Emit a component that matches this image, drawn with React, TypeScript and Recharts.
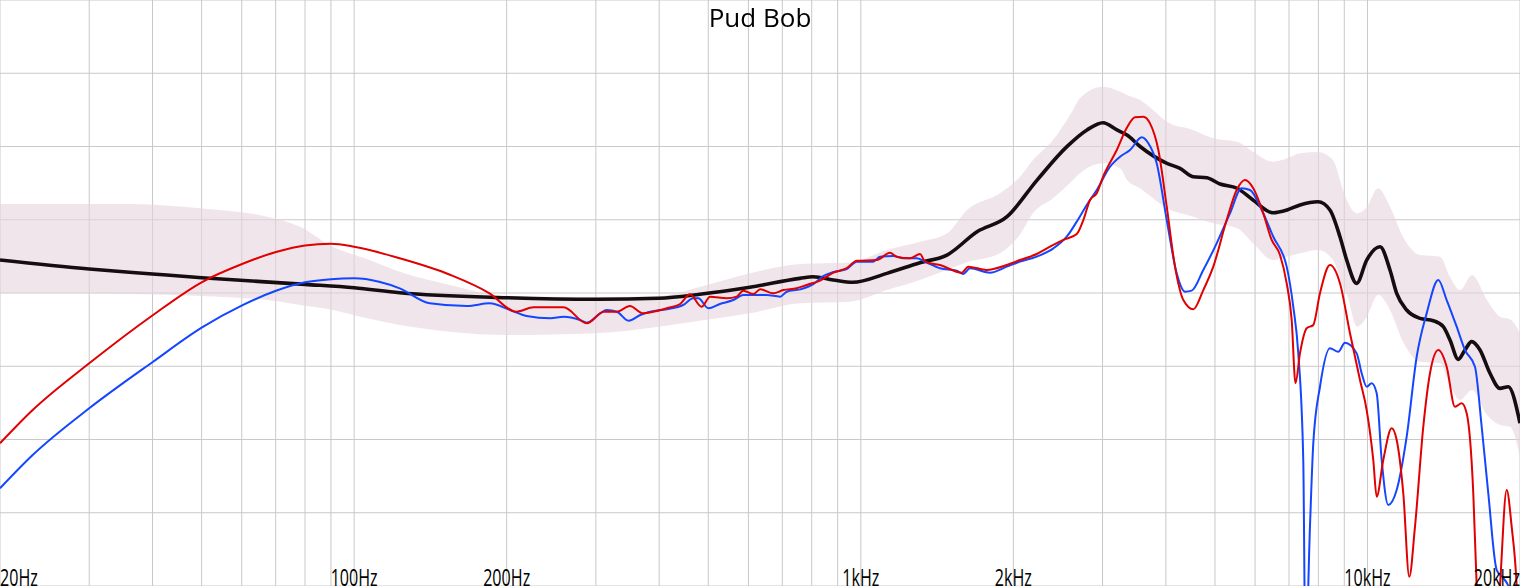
import React from 'react';
import { ComposedChart, Line, Area, XAxis, YAxis, CartesianGrid } from 'recharts';

// x grid: every 1-2-3..9 step per decade, labels only on a few
const gridFreqs = [20, 30, 40, 50, 60, 70, 80, 90, 100, 200, 300, 400, 500, 600, 700, 800, 900, 1000, 2000, 3000, 4000, 5000, 6000, 7000, 8000, 9000, 10000, 20000];
const tickFreqs = [20, 100, 200, 1000, 2000, 10000, 20000];
const tickLabels = ['20Hz', '100Hz', '200Hz', '1kHz', '2kHz', '10kHz', '20kHz'];
const dbTicks = [50, 55, 60, 65, 70, 75, 80, 85, 90];

// target curve (black)
const targetFreq = [20, 30, 40, 50, 80, 100, 123, 200, 301, 400, 481, 604, 758, 805, 882, 964, 1126, 1308, 1479, 1696, 1943, 2228, 2551, 2795, 3006, 3203, 3352, 3558, 4019, 4266, 4527, 4821, 5116, 5530, 5944, 6510, 6940, 7360, 7988, 8432, 8825, 9098, 9521, 9964, 10586, 11077, 11419, 11950, 12695, 13486, 14113, 14549, 15107, 15575, 16056, 16674, 17449, 18261, 18963, 20000];
const targetDb = [72.25, 71.64, 71.3, 71.04, 70.59, 70.36, 70.02, 69.68, 69.57, 69.64, 69.91, 70.39, 71.0, 71.11, 70.89, 70.73, 71.34, 72.07, 72.59, 74.18, 75.21, 77.71, 79.99, 81.13, 81.62, 81.13, 80.78, 80.0, 78.85, 78.51, 77.94, 77.87, 77.44, 77.15, 76.35, 75.48, 75.67, 76.01, 76.23, 75.67, 73.84, 72.25, 70.66, 72.25, 73.16, 71.57, 69.98, 68.84, 68.27, 68.11, 67.7, 66.79, 65.47, 66.11, 66.68, 66.11, 64.52, 63.49, 63.6, 61.11];

// target tolerance band (pink)
const bandFreq = [20, 31.5, 36.6, 49.6, 67.3, 78.2, 90.8, 106, 123, 154.6, 200, 301, 400, 481, 604, 758, 952, 1126, 1308, 1479, 1620, 1882, 2062, 2187, 2395, 2623, 2708, 3007, 3248, 3353, 3558, 3773, 4020, 4527, 4956, 5527, 5944, 6510, 6940, 7360, 7988, 8549, 8947, 9110, 9534, 9977, 10489, 11077, 11750, 12695, 13903, 14549, 15225, 16078, 17213, 18261, 19110, 20000];
const bandHigh = [76.08, 76.08, 76.08, 75.78, 75.21, 74.53, 73.16, 72.32, 71.45, 70.55, 69.8, 69.73, 69.8, 70.41, 71.34, 71.98, 72.08, 72.94, 73.5, 74.07, 75.67, 76.81, 77.94, 79.08, 80.44, 82.49, 83.31, 84.08, 83.74, 83.52, 83.17, 82.49, 81.69, 81.13, 80.56, 80.33, 79.65, 78.96, 79.19, 79.54, 79.62, 79.08, 77.03, 76.35, 75.44, 75.89, 77.15, 75.89, 73.84, 72.59, 72.48, 71.11, 70.2, 71.23, 69.52, 68.38, 68.2, 67.27];
const bandLow = [69.98, 69.98, 69.93, 69.8, 69.52, 69.18, 68.84, 68.27, 67.82, 67.36, 67.13, 67.25, 67.7, 68.1, 68.61, 69.3, 69.41, 70.2, 70.89, 71.57, 72.1, 72.71, 74.0, 75.44, 76.46, 77.71, 78.17, 78.85, 78.51, 77.71, 77.15, 76.46, 75.78, 75.21, 74.76, 74.42, 73.39, 72.25, 72.48, 72.71, 72.94, 72.25, 70.43, 69.86, 67.7, 68.38, 69.86, 68.84, 66.68, 65.31, 65.2, 63.72, 62.7, 63.38, 61.67, 60.99, 60.87, 58.83];

// right channel (red)
const redFreq = [20, 23.2, 30, 40.1, 50.1, 60.1, 70.1, 80, 90, 100, 123, 155, 185, 209, 226, 259, 288, 311, 330, 350, 372, 389, 414, 440, 460, 485, 504, 544, 569, 586, 614, 633, 672, 703, 747, 782, 831, 883, 938, 982, 1075, 1142, 1177, 1251, 1309, 1339, 1433, 1582, 1630, 1772, 1941, 2062, 2224, 2363, 2510, 2668, 2749, 2834, 2922, 3007, 3200, 3348, 3477, 3611, 3722, 3866, 4016, 4170, 4331, 4532, 4742, 4962, 5273, 5519, 5731, 5951, 6228, 6470, 6720, 6927, 7086, 7210, 7358, 7586, 7817, 8058, 8433, 8825, 9236, 9665, 9964, 10267, 10427, 10744, 11163, 11419, 11767, 12092, 12410, 12887, 13285, 13796, 14332, 14883, 15343, 15696, 16174, 16426, 16826, 17770, 18261, 18824, 19257, 19699, 20000];
const redDb = [59.74, 62.01, 65.2, 68.5, 70.75, 71.98, 72.8, 73.25, 73.36, 73.16, 72.37, 71.23, 69.98, 68.72, 69.02, 69.02, 67.93, 68.72, 68.72, 69.11, 68.61, 68.72, 68.96, 69.25, 69.91, 69.06, 69.75, 69.64, 69.75, 70.16, 69.93, 70.25, 69.98, 70.2, 70.32, 70.55, 70.85, 71.39, 71.69, 72.2, 72.25, 72.75, 72.48, 72.37, 72.66, 72.14, 71.91, 71.39, 71.8, 71.57, 71.91, 72.25, 72.66, 73.16, 73.62, 74.03, 74.98, 76.35, 76.81, 77.94, 79.76, 81.26, 81.99, 82.03, 81.58, 79.76, 75.89, 71.8, 69.52, 68.89, 70.2, 71.8, 74.98, 77.03, 77.71, 77.15, 75.44, 73.62, 72.59, 70.66, 68.16, 63.84, 65.88, 67.59, 67.82, 69.98, 71.91, 70.66, 67.25, 64.06, 62.01, 58.6, 56.1, 58.6, 60.76, 59.97, 56.33, 50.63, 54.05, 60.87, 64.52, 66.11, 64.97, 62.24, 62.47, 61.79, 56.33, 50, 43.6, 43.6, 50, 56.55, 54.05, 50, 44];

// left channel (blue)
const blueFreq = [20, 23.2, 30, 40.1, 50.1, 60.1, 70.1, 80, 90, 100, 112, 123, 141, 167, 185, 203, 219, 244, 259, 279, 288, 306, 315, 330, 348, 367, 384, 414, 446, 467, 478, 500, 527, 560, 586, 614, 652, 693, 714, 759, 806, 843, 883, 938, 982, 1058, 1091, 1159, 1213, 1289, 1349, 1433, 1546, 1593, 1643, 1799, 1941, 2062, 2224, 2399, 2549, 2668, 2792, 2922, 3104, 3248, 3399, 3585, 3694, 3837, 4016, 4202, 4364, 4498, 4742, 5039, 5353, 5646, 5863, 6183, 6518, 6927, 7138, 7302, 7469, 7544, 7700, 7817, 8058, 8433, 8757, 9028, 9521, 9740, 9964, 10193, 10427, 10667, 10991, 11419, 11950, 12506, 13087, 13796, 14332, 14999, 15575, 16299, 16804, 17315, 17990, 18537, 19110, 20000];
const blueDb = [56.67, 58.94, 62.13, 65.31, 67.65, 69.15, 70.15, 70.73, 70.94, 71.0, 70.77, 70.32, 69.3, 69.11, 69.3, 68.84, 68.43, 68.27, 68.38, 68.16, 67.97, 68.61, 68.84, 68.72, 68.11, 68.5, 68.72, 68.89, 69.18, 69.64, 69.64, 68.96, 69.25, 69.52, 69.86, 69.86, 69.86, 69.75, 70.09, 70.25, 70.61, 71.16, 71.43, 71.64, 72.14, 72.14, 72.48, 72.53, 72.37, 72.37, 72.07, 71.69, 71.52, 71.3, 71.69, 71.39, 71.8, 72.14, 72.48, 73.05, 73.84, 74.87, 76.01, 77.03, 78.62, 79.3, 79.76, 80.63, 80.22, 78.85, 74.98, 71.34, 70.09, 70.16, 71.57, 73.39, 75.44, 77.15, 77.03, 75.67, 73.84, 71.8, 69.06, 65.88, 58.6, 45, 54.05, 59.74, 63.6, 66.23, 65.99, 66.61, 65.88, 64.52, 63.6, 63.84, 63.15, 58.6, 55.53, 56.55, 60.19, 65.65, 68.61, 70.89, 69.52, 67.7, 66.11, 64.97, 60.87, 56.33, 51.09, 50.55, 49.7, 44];

const toRows = (freqs: number[], dbs: number[]) => freqs.map((f, i) => ({ f, db: dbs[i] }));

const targetData = toRows(targetFreq, targetDb);
const redData = toRows(redFreq, redDb);
const blueData = toRows(blueFreq, blueDb);
const bandData = bandFreq.map((f, i) => ({ f, range: [bandLow[i], bandHigh[i]] }));

const FreqTick = ({ x, y, payload }: any) => {
    const i = tickFreqs.indexOf(payload.value);
    if (i < 0) return <g />;
    const anchor = i === 0 ? 'start' : i === tickFreqs.length - 1 ? 'end' : 'middle';
    return (
        <g transform={`translate(${x},${y})`}>
            <text
                transform="scale(0.7,1)"
                textAnchor={anchor}
                fontFamily="'Open Sans', sans-serif"
                fontSize={23}
                fill="#000"
            >
                {tickLabels[i]}
            </text>
        </g>
    );
};

const App: React.FC = () => {
    return (
        <div style={{ position: 'fixed', left: 0, top: 0, width: 1520, height: 586, background: '#fff' }}>
            <ComposedChart width={1520} height={586} margin={{ top: 0, right: 0, bottom: 0, left: 0 }}>
                <CartesianGrid stroke="#c9c9c9" strokeWidth={1} />
                <XAxis
                    dataKey="f"
                    type="number"
                    scale="log"
                    domain={[20, 20000]}
                    ticks={gridFreqs}
                    interval={0}
                    allowDataOverflow
                    mirror
                    tickSize={0}
                    tickMargin={0}
                    tickLine={false}
                    axisLine={false}
                    tick={<FreqTick />}
                />
                <YAxis type="number" domain={[50, 90]} ticks={dbTicks} allowDataOverflow hide />
                <Area
                    data={bandData}
                    dataKey="range"
                    type="monotone"
                    stroke="none"
                    fill="#e8d3df"
                    fillOpacity={0.6}
                    dot={false}
                    activeDot={false}
                    isAnimationActive={false}
                />
                <Line
                    data={targetData}
                    dataKey="db"
                    type="monotone"
                    stroke="#150d0f"
                    strokeWidth={3.6}
                    dot={false}
                    activeDot={false}
                    isAnimationActive={false}
                />
                <Line
                    data={blueData}
                    dataKey="db"
                    type="monotone"
                    stroke="#1446ff"
                    strokeWidth={2}
                    dot={false}
                    activeDot={false}
                    isAnimationActive={false}
                />
                <Line
                    data={redData}
                    dataKey="db"
                    type="monotone"
                    stroke="#e00000"
                    strokeWidth={2}
                    dot={false}
                    activeDot={false}
                    isAnimationActive={false}
                />
            </ComposedChart>
            <div
                style={{
                    position: 'absolute',
                    left: 0,
                    top: 4,
                    width: 1520,
                    textAlign: 'center',
                    fontFamily: "'Open Sans', sans-serif",
                    fontSize: 26,
                    lineHeight: '26px',
                    color: '#000'
                }}
            >
                Pud Bob
            </div>
        </div>
    );
};

export default App;
